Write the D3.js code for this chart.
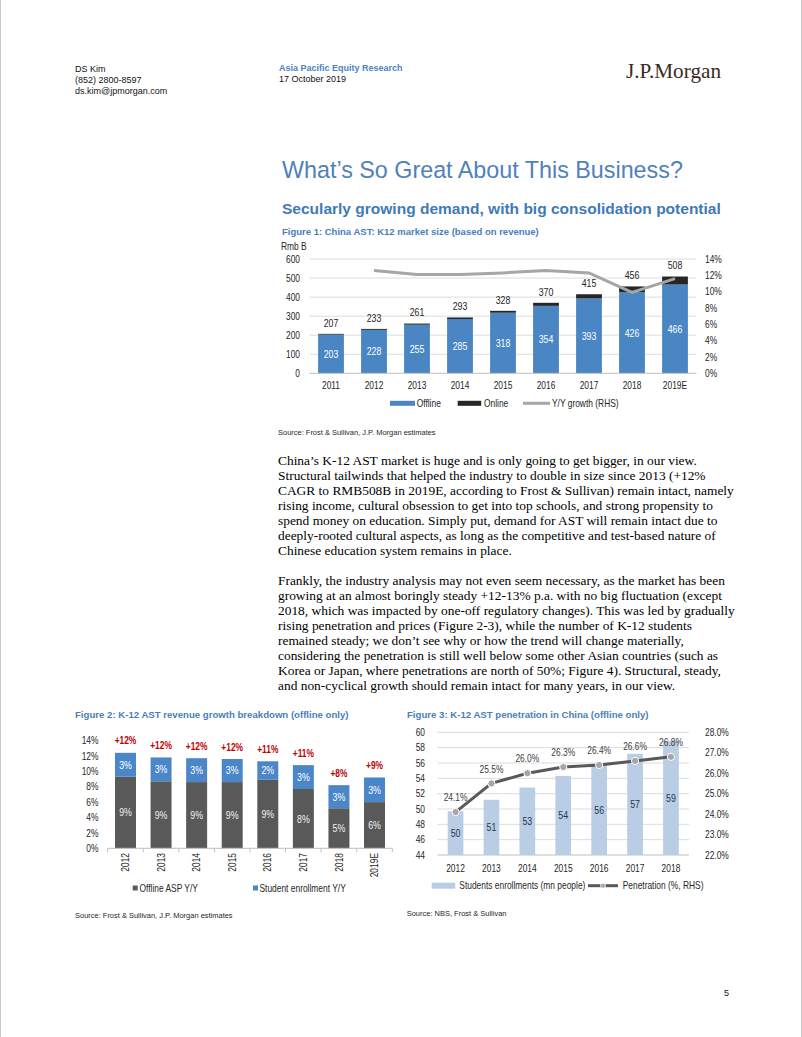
<!DOCTYPE html>
<html><head><meta charset="utf-8">
<script src="https://cdn.jsdelivr.net/npm/d3@7"></script>
<style>
html,body{margin:0;padding:0;background:#fff;}
svg{display:block;}
text{font-family:"Liberation Sans",Arial,sans-serif;}
.serif{font-family:"Liberation Serif","Times New Roman",serif;}
</style></head><body>
<svg id="page" width="802" height="1037"></svg>
<script>
// ---------- DATA ----------
const fig1Years = ["2011","2012","2013","2014","2015","2016","2017","2018","2019E"];
const fig1Offline = [203,228,255,285,318,354,393,426,466];
const fig1Online = [4,5,6,8,10,16,22,30,42];
const fig1Growth = [null,12.6,12.1,12.1,12.3,12.6,12.3,9.9,11.6];
const fig1LeftTicks = [0,100,200,300,400,500,600];
const fig1RightTicks = [0,2,4,6,8,10,12,14];

const fig2Years = ["2012","2013","2014","2015","2016","2017","2018","2019E"];
const fig2Asp = [9.3,8.7,8.6,8.6,8.9,7.7,5.2,6.0];
const fig2Enroll = [3.1,3.1,3.1,3.0,2.4,3.1,3.0,3.2];
const fig2Ticks = [0,2,4,6,8,10,12,14];

const fig3Years = ["2012","2013","2014","2015","2016","2017","2018"];
const fig3Students = [49.7,51.2,52.8,54.3,55.7,57.2,58.9];
const fig3Penetration = [24.1,25.5,26.0,26.3,26.4,26.6,26.8];
const fig3LeftTicks = [44,46,48,50,52,54,56,58,60];
const fig3RightTicks = [22,23,24,25,26,27,28];

const para1 = [
"China\u2019s K-12 AST market is huge and is only going to get bigger, in our view.",
"Structural tailwinds that helped the industry to double in size since 2013 (+12%",
"CAGR to RMB508B in 2019E, according to Frost & Sullivan) remain intact, namely",
"rising income, cultural obsession to get into top schools, and strong propensity to",
"spend money on education. Simply put, demand for AST will remain intact due to",
"deeply-rooted cultural aspects, as long as the competitive and test-based nature of",
"Chinese education system remains in place."];
const para2 = [
"Frankly, the industry analysis may not even seem necessary, as the market has been",
"growing at an almost boringly steady +12-13% p.a. with no big fluctuation (except",
"2018, which was impacted by one-off regulatory changes). This was led by gradually",
"rising penetration and prices (Figure 2-3), while the number of K-12 students",
"remained steady; we don\u2019t see why or how the trend will change materially,",
"considering the penetration is still well below some other Asian countries (such as",
"Korea or Japan, where penetrations are north of 50%; Figure 4). Structural, steady,",
"and non-cyclical growth should remain intact for many years, in our view."];

// ---------- HELPERS ----------
const svg = d3.select("#page");
svg.append("rect").attr("width",802).attr("height",1037).attr("fill","#fff");
svg.append("line").attr("x1",0.5).attr("x2",0.5).attr("y1",0).attr("y2",1037).attr("stroke","#c8c8c8");
svg.append("line").attr("x1",801.5).attr("x2",801.5).attr("y1",0).attr("y2",1037).attr("stroke","#c8c8c8");

function T(x,y,s,o={}){
  const t = (o.parent||svg).append("text").attr("x",x).attr("y",y).text(s)
    .attr("font-size",o.size||10).attr("fill",o.fill||"#262626");
  if(o.anchor) t.attr("text-anchor",o.anchor);
  if(o.weight) t.attr("font-weight",o.weight);
  if(o.cls) t.attr("class",o.cls);
  if(o.dy) t.attr("dy",o.dy);
  if(o.width){ // fit to width by scaling font size
    const w = t.node().getComputedTextLength();
    if(w>0) t.attr("font-size",(o.size||10)*o.width/w);
  }
  return t;
}
const fmt0 = d3.format(".0f");

// ---------- HEADER ----------
T(75,72,"DS Kim",{size:9,fill:"#111"});
T(75,83,"(852) 2800-8597",{size:9,fill:"#111"});
T(75,94,"ds.kim@jpmorgan.com",{size:9,fill:"#111"});
T(279,71,"Asia Pacific Equity Research",{size:9,fill:"#4f81bd",weight:"bold"});
T(279,82,"17 October 2019",{size:9,fill:"#111"});
T(626,78,"J.P.Morgan",{size:19,fill:"#3a2a22",cls:"serif",width:95});

// ---------- TITLES ----------
const blue = "#4a7ebb";
T(282,178,"What\u2019s So Great About This Business?",{size:23,fill:"#4f81bd",width:401});
T(282,214,"Secularly growing demand, with big consolidation potential",{size:14,fill:"#3f7ab8",weight:"bold",width:439});
T(282,234.5,"Figure 1: China AST: K12 market size (based on revenue)",{size:10,fill:blue,weight:"bold",width:257});

// ---------- FIGURE 1 ----------
{
  const g = svg.append("g").attr("class","chart");
  const x = d3.scaleBand().domain(fig1Years).range([309.5,696.5]).paddingInner(0.4).paddingOuter(0.2);
  const y = d3.scaleLinear().domain([0,600]).range([373.3,259]);
  const yr = d3.scaleLinear().domain([0,14]).range([373.3,259]);
  g.selectAll(".gl").data(fig1LeftTicks.filter(d=>d>0)).join("line")
    .attr("x1",309.5).attr("x2",696.5).attr("y1",d=>y(d)).attr("y2",d=>y(d))
    .attr("stroke","#dcdcdc").attr("stroke-width",1);
  g.selectAll(".yl").data(fig1LeftTicks).join("text")
    .attr("x",300).attr("y",d=>y(d)).attr("dy","0.35em").attr("text-anchor","end")
    .attr("font-size",10.5).attr("fill","#262626").text(d=>d);
  g.selectAll(".yr").data(fig1RightTicks).join("text")
    .attr("x",705).attr("y",d=>yr(d)).attr("dy","0.35em")
    .attr("font-size",10.5).attr("fill","#262626").text(d=>d+"%");
  T(281,249.5,"Rmb B",{size:10.5,parent:g});
  g.selectAll(".off").data(fig1Years).join("rect")
    .attr("x",d=>x(d)).attr("width",x.bandwidth())
    .attr("y",(d,i)=>y(fig1Offline[i])).attr("height",(d,i)=>y(0)-y(fig1Offline[i]))
    .attr("fill","#4a85c4");
  g.selectAll(".on").data(fig1Years).join("rect")
    .attr("x",d=>x(d)).attr("width",x.bandwidth())
    .attr("y",(d,i)=>y(fig1Offline[i]+fig1Online[i])).attr("height",(d,i)=>y(fig1Offline[i])-y(fig1Offline[i]+fig1Online[i]))
    .attr("fill","#262626");
  g.append("line").attr("x1",309.5).attr("x2",696.5).attr("y1",y(0)).attr("y2",y(0)).attr("stroke","#bfbfbf");
  g.selectAll(".ol").data(fig1Years).join("text")
    .attr("x",d=>x(d)+x.bandwidth()/2).attr("y",(d,i)=>(y(0)+y(fig1Offline[i]))/2).attr("dy","0.35em")
    .attr("text-anchor","middle").attr("font-size",11).attr("fill","#fff").text((d,i)=>fig1Offline[i]);
  g.selectAll(".tl").data(fig1Years).join("text")
    .attr("x",d=>x(d)+x.bandwidth()/2).attr("y",(d,i)=>y(fig1Offline[i]+fig1Online[i])-11).attr("dy","0.35em")
    .attr("text-anchor","middle").attr("font-size",11).attr("fill","#262626").text((d,i)=>fig1Offline[i]+fig1Online[i]);
  const line = d3.line().defined(d=>d.v!=null).x(d=>x(d.k)+x.bandwidth()/2).y(d=>yr(d.v));
  g.append("path").datum(fig1Years.map((k,i)=>({k,v:fig1Growth[i]})))
    .attr("d",line).attr("fill","none").attr("stroke","#a6a6a6").attr("stroke-width",3);
  g.selectAll(".xl").data(fig1Years).join("text")
    .attr("x",d=>x(d)+x.bandwidth()/2).attr("y",385.7).attr("dy","0.35em")
    .attr("text-anchor","middle").attr("font-size",10.5).attr("fill","#262626").text(d=>d);
  // legend
  const ly = 403.3;
  g.append("rect").attr("x",390).attr("y",ly-2.5).attr("width",25).attr("height",5).attr("fill","#4a85c4");
  T(416.7,ly,"Offline",{size:10.5,dy:"0.35em",parent:g});
  g.append("rect").attr("x",457.7).attr("y",ly-2.5).attr("width",23.5).attr("height",5).attr("fill","#262626");
  T(484,ly,"Online",{size:10.5,dy:"0.35em",parent:g});
  g.append("line").attr("x1",523).attr("x2",550).attr("y1",ly).attr("y2",ly).attr("stroke","#a6a6a6").attr("stroke-width",3);
  T(552,ly,"Y/Y growth (RHS)",{size:10.5,dy:"0.35em",parent:g});
}
T(278,434.5,"Source: Frost & Sullivan, J.P. Morgan estimates",{size:7.5,fill:"#262626",width:158});

// ---------- BODY TEXT ----------
{
  const probe = T(278,-50,para2[0],{size:13.5,cls:"serif"});
  const w = probe.node().getComputedTextLength();
  const fs = 13.5*447/w;
  probe.remove();
  para1.forEach((s,i)=>T(278,464.5+i*15,s,{size:fs,fill:"#000",cls:"serif"}));
  para2.forEach((s,i)=>T(278,584.5+i*15,s,{size:fs,fill:"#000",cls:"serif"}));
}

// ---------- FIGURE 2 ----------
T(75,717.5,"Figure 2: K-12 AST revenue growth breakdown (offline only)",{size:10,fill:blue,weight:"bold",width:274});
{
  const g = svg.append("g").attr("class","chart");
  const x = d3.scaleBand().domain(fig2Years).range([107.7,392.3]).paddingInner(0.41).paddingOuter(0.205);
  const y = d3.scaleLinear().domain([0,14]).range([848.3,740.5]);
  g.selectAll(".yl").data(fig2Ticks).join("text")
    .attr("x",98.5).attr("y",d=>y(d)).attr("dy","0.35em").attr("text-anchor","end")
    .attr("font-size",10.5).attr("fill","#262626").text(d=>d+"%");
  g.selectAll(".asp").data(fig2Years).join("rect")
    .attr("x",d=>x(d)).attr("width",x.bandwidth())
    .attr("y",(d,i)=>y(fig2Asp[i])).attr("height",(d,i)=>y(0)-y(fig2Asp[i])).attr("fill","#595959");
  g.selectAll(".enr").data(fig2Years).join("rect")
    .attr("x",d=>x(d)).attr("width",x.bandwidth())
    .attr("y",(d,i)=>y(fig2Asp[i]+fig2Enroll[i])).attr("height",(d,i)=>y(fig2Asp[i])-y(fig2Asp[i]+fig2Enroll[i])).attr("fill","#4a86c8");
  g.append("line").attr("x1",107.7).attr("x2",392.3).attr("y1",y(0)).attr("y2",y(0)).attr("stroke","#bfbfbf");
  const step = x.step();
  g.selectAll(".tk").data(d3.range(fig2Years.length+1)).join("line")
    .attr("x1",d=>107.7+d*step).attr("x2",d=>107.7+d*step).attr("y1",y(0)).attr("y2",y(0)+4).attr("stroke","#bfbfbf");
  g.selectAll(".al").data(fig2Years).join("text")
    .attr("x",d=>x(d)+x.bandwidth()/2).attr("y",(d,i)=>(y(0)+y(fig2Asp[i]))/2).attr("dy","0.35em")
    .attr("text-anchor","middle").attr("font-size",11).attr("fill","#f2f2f2").text((d,i)=>fmt0(fig2Asp[i])+"%");
  g.selectAll(".el").data(fig2Years).join("text")
    .attr("x",d=>x(d)+x.bandwidth()/2).attr("y",(d,i)=>(y(fig2Asp[i])+y(fig2Asp[i]+fig2Enroll[i]))/2).attr("dy","0.35em")
    .attr("text-anchor","middle").attr("font-size",11).attr("fill","#fff").text((d,i)=>fmt0(fig2Enroll[i])+"%");
  g.selectAll(".tt").data(fig2Years).join("text")
    .attr("x",d=>x(d)+x.bandwidth()/2).attr("y",(d,i)=>y(fig2Asp[i]+fig2Enroll[i])-12).attr("dy","0.35em")
    .attr("text-anchor","middle").attr("font-size",10.5).attr("font-weight","bold").attr("fill","#c00000")
    .text((d,i)=>"+"+fmt0(fig2Asp[i]+fig2Enroll[i])+"%");
  g.selectAll(".xl").data(fig2Years).join("text")
    .attr("transform",d=>`translate(${x(d)+x.bandwidth()/2},853) rotate(-90)`).attr("dy","0.35em")
    .attr("text-anchor","end").attr("font-size",10.5).attr("fill","#262626").text(d=>d);
  const ly = 888;
  g.append("rect").attr("x",132.7).attr("y",ly-2.5).attr("width",5).attr("height",5).attr("fill","#595959");
  T(139.5,ly,"Offline ASP Y/Y",{size:10.5,dy:"0.35em",parent:g});
  g.append("rect").attr("x",253).attr("y",ly-2.5).attr("width",5).attr("height",5).attr("fill","#4a86c8");
  T(259.5,ly,"Student enrollment Y/Y",{size:10.5,dy:"0.35em",parent:g});
}
T(75,917.5,"Source: Frost & Sullivan, J.P. Morgan estimates",{size:7.5,fill:"#262626",width:158});

// ---------- FIGURE 3 ----------
T(407,717.5,"Figure 3: K-12 AST penetration in China (offline only)",{size:10,fill:blue,weight:"bold",width:242});
{
  const g = svg.append("g").attr("class","chart");
  const x = d3.scaleBand().domain(fig3Years).range([437.5,689]).paddingInner(0.563).paddingOuter(0.284);
  const y = d3.scaleLinear().domain([44,60]).range([855,732.3]);
  const yr = d3.scaleLinear().domain([22,28]).range([855,732.3]);
  g.selectAll(".gl").data(fig3LeftTicks).join("line")
    .attr("x1",437.5).attr("x2",689).attr("y1",d=>y(d)).attr("y2",d=>y(d))
    .attr("stroke",d=>d===44?"#bfbfbf":"#dcdcdc");
  g.selectAll(".yl").data(fig3LeftTicks).join("text")
    .attr("x",425).attr("y",d=>y(d)).attr("dy","0.35em").attr("text-anchor","end")
    .attr("font-size",10.5).attr("fill","#262626").text(d=>d);
  g.selectAll(".yr").data(fig3RightTicks).join("text")
    .attr("x",705).attr("y",d=>yr(d)).attr("dy","0.35em")
    .attr("font-size",10.5).attr("fill","#262626").text(d=>d.toFixed(1)+"%");
  g.selectAll(".bar").data(fig3Years).join("rect")
    .attr("x",d=>x(d)).attr("width",x.bandwidth())
    .attr("y",(d,i)=>y(fig3Students[i])).attr("height",(d,i)=>y(44)-y(fig3Students[i])).attr("fill","#b9cde5");
  g.selectAll(".bl").data(fig3Years).join("text")
    .attr("x",d=>x(d)+x.bandwidth()/2).attr("y",(d,i)=>(y(44)+y(fig3Students[i]))/2).attr("dy","0.35em")
    .attr("text-anchor","middle").attr("font-size",11).attr("fill","#1f3550").text((d,i)=>fmt0(fig3Students[i]));
  const line = d3.line().x((d,i)=>x(fig3Years[i])+x.bandwidth()/2).y(d=>yr(d));
  g.append("path").datum(fig3Penetration).attr("d",line).attr("fill","none").attr("stroke","#595959").attr("stroke-width",3);
  g.selectAll(".pt").data(fig3Penetration).join("circle")
    .attr("cx",(d,i)=>x(fig3Years[i])+x.bandwidth()/2).attr("cy",d=>yr(d)).attr("r",3.6)
    .attr("fill","#a6a6a6").attr("stroke","#fff").attr("stroke-width",1);
  g.selectAll(".pl").data(fig3Penetration).join("text")
    .attr("x",(d,i)=>x(fig3Years[i])+x.bandwidth()/2).attr("y",d=>yr(d)-14.5).attr("dy","0.35em")
    .attr("text-anchor","middle").attr("font-size",10.5).attr("fill","#404040").text(d=>d.toFixed(1)+"%");
  g.selectAll(".xl").data(fig3Years).join("text")
    .attr("x",d=>x(d)+x.bandwidth()/2).attr("y",868.3).attr("dy","0.35em")
    .attr("text-anchor","middle").attr("font-size",10.5).attr("fill","#262626").text(d=>d);
  const ly = 885.7;
  g.append("rect").attr("x",431.7).attr("y",ly-3).attr("width",23.5).attr("height",6).attr("fill","#b9cde5");
  T(459.3,ly,"Students enrollments (mn people)",{size:10.5,dy:"0.35em",parent:g});
  g.append("line").attr("x1",588).attr("x2",618).attr("y1",ly).attr("y2",ly).attr("stroke","#595959").attr("stroke-width",3);
  g.append("circle").attr("cx",603).attr("cy",ly).attr("r",2.5).attr("fill","#a6a6a6").attr("stroke","#fff").attr("stroke-width",0.8);
  T(622.7,ly,"Penetration (%, RHS)",{size:10.5,dy:"0.35em",parent:g});
}
T(406.7,916,"Source: NBS, Frost & Sullivan",{size:7.5,fill:"#262626",width:100});

// ---------- PAGE NUMBER ----------
T(724,996,"5",{size:9,fill:"#111"});

// narrow (Arial Narrow-like) glyphs for chart texts
d3.selectAll("g.chart text").each(function(){
  const w = this.getComputedTextLength();
  d3.select(this).attr("textLength",w*0.8).attr("lengthAdjust","spacingAndGlyphs");
});
</script>
</body></html>
